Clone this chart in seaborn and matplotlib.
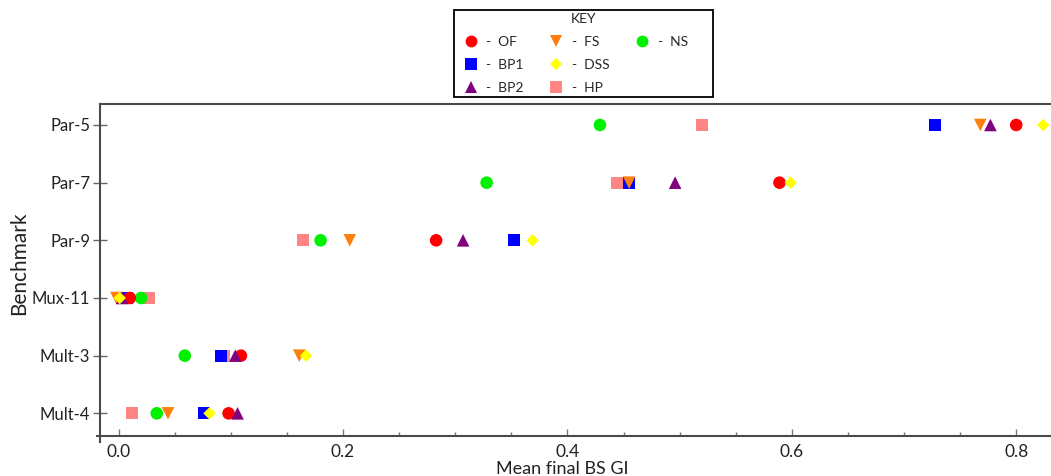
import matplotlib
matplotlib.use("Agg")
import matplotlib.pyplot as plt
from matplotlib.lines import Line2D
from matplotlib.ticker import MultipleLocator, FormatStrFormatter
import seaborn as sns
import pandas as pd

# Benchmarks (top to bottom) and mean final BS GI per method
benchmarks = ["Par-5", "Par-7", "Par-9", "Mux-11", "Mult-3", "Mult-4"]
methods = ["OF", "BP1", "BP2", "FS", "DSS", "HP", "NS"]

of_vals = [0.800, 0.589, 0.283, 0.010, 0.109, 0.098]
bp1_vals = [0.728, 0.455, 0.352, 0.007, 0.091, 0.076]
bp2_vals = [0.777, 0.496, 0.307, 0.003, 0.104, 0.106]
fs_vals = [0.768, 0.455, 0.206, -0.002, 0.161, 0.044]
dss_vals = [0.824, 0.599, 0.369, 0.001, 0.167, 0.081]
hp_vals = [0.520, 0.444, 0.164, 0.027, 0.094, 0.012]
ns_vals = [0.429, 0.328, 0.180, 0.020, 0.059, 0.034]

colors = {"OF": "#FF0000", "BP1": "#0000FF", "BP2": "#800080", "FS": "#FF7F0E",
          "DSS": "#FFFF00", "HP": "#FF8585", "NS": "#00F000"}
markers = {"OF": "o", "BP1": "s", "BP2": "^", "FS": "v", "DSS": "D", "HP": "s", "NS": "o"}
sizes = {"OF": 82, "BP1": 76, "BP2": 82, "FS": 82, "DSS": 40, "HP": 76, "NS": 82}

series = {"OF": of_vals, "BP1": bp1_vals, "BP2": bp2_vals, "FS": fs_vals,
          "DSS": dss_vals, "HP": hp_vals, "NS": ns_vals}

# stacking order of the marks (first drawn ends up underneath)
draw_order = ["HP", "NS", "BP1", "OF", "FS", "BP2", "DSS"]
rows = []
for m in draw_order:
    for b, v in zip(benchmarks, series[m]):
        rows.append({"Benchmark": b, "Method": m, "Value": v})
df = pd.DataFrame(rows)

sns.set_theme(style="white")
plt.rcParams["font.family"] = ["Lato", "DejaVu Sans"]

fig = plt.figure(figsize=(10.51, 4.76), dpi=100)
ax = fig.add_axes([100 / 1051, 40.3 / 476, 951 / 1051, 331.7 / 476])

sns.scatterplot(data=df, x="Value", y="Benchmark", hue="Method", style="Method",
                size="Method", palette=colors, markers=markers, sizes=sizes,
                hue_order=methods, style_order=methods, size_order=methods,
                linewidth=0, legend=False, ax=ax, clip_on=False, zorder=3)

ax.set_xlim(-0.0166, 0.831)
ax.set_ylim(5.388, -0.364)
ax.set_yticks(range(len(benchmarks)))
ax.set_yticklabels(benchmarks)
ax.xaxis.set_major_locator(MultipleLocator(0.2))
ax.xaxis.set_minor_locator(MultipleLocator(0.05))
ax.xaxis.set_major_formatter(FormatStrFormatter("%.1f"))

spine_col = "#4a4a4a"
for side in ["left", "top", "bottom"]:
    ax.spines[side].set_color(spine_col)
    ax.spines[side].set_linewidth(1.5)
ax.spines["right"].set_visible(False)
# axes lines cross slightly at the lower-left corner
ax.spines["left"].set_bounds(-0.364, 5.50)
ax.spines["bottom"].set_bounds(-0.0195, 0.831)

ax.tick_params(axis="y", which="major", direction="inout", length=10, width=1,
               color="#666666", labelsize=12, labelcolor="#222222", pad=2, left=True)
ax.tick_params(axis="x", which="major", direction="in", length=5, width=1,
               color="#777777", labelsize=12.5, labelcolor="#222222", pad=6, bottom=True)
ax.tick_params(axis="x", which="minor", direction="in", length=3, width=1,
               color="#777777", bottom=True)

ax.set_xlabel("Mean final BS GI", fontsize=13, color="#222222")
ax.xaxis.set_label_coords((562 - 100) / 951, -0.075)
ax.set_ylabel("Benchmark", fontsize=15, color="#222222")
ax.yaxis.set_label_coords(-71 / 951, 0.521)

# Key: three columns, filled top-to-bottom; the two empty slots of the
# last column are blank spacers that widen it
handles = []
labels = []
for m in methods:
    ms = 6 if m == "DSS" else 8.5
    handles.append(Line2D([], [], linestyle="none", marker=markers[m], color=colors[m],
                          markersize=ms, markeredgewidth=0))
    labels.append("-  " + m)
for _ in range(2):
    handles.append(Line2D([], [], linestyle="none", marker=None))
    labels.append(" " * 15)

leg = fig.legend(handles, labels, ncol=3, title="KEY", loc="upper left",
                 bbox_to_anchor=(454 / 1051, 1 - 98 / 476, 259 / 1051, 88 / 476),
                 mode="expand", borderaxespad=0, fontsize=10, title_fontsize=10,
                 frameon=True, fancybox=False, framealpha=1, edgecolor="black",
                 borderpad=0.2, labelspacing=0.8, handletextpad=0.1,
                 columnspacing=1.6, handlelength=2.0)
leg.get_frame().set_linewidth(1.3)

fig.savefig("out.png", dpi=100)
